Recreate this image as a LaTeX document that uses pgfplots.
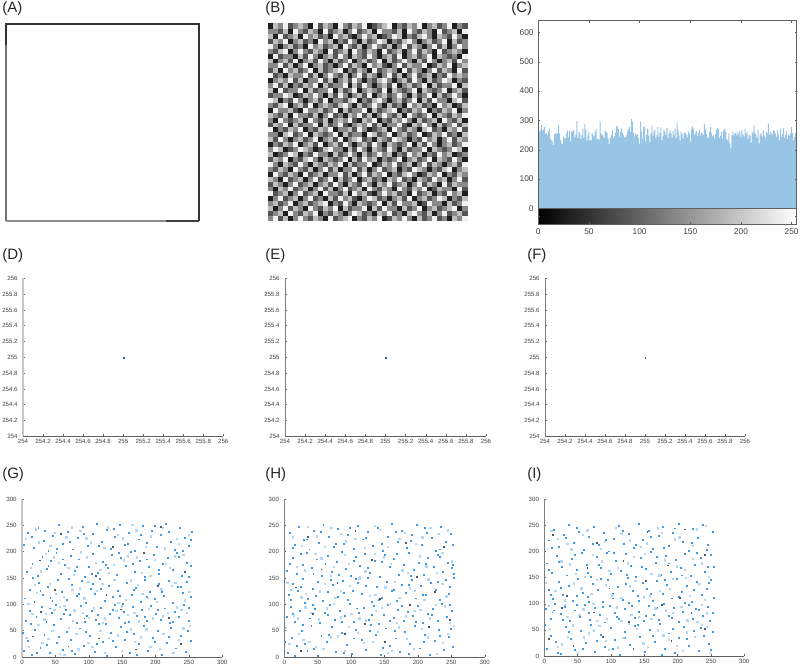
\documentclass[border=0pt]{standalone}
\usepackage{fontspec}
\setmainfont{Liberation Sans}
\usepackage{pgfplots}
\usepackage{pgfplotstable}
\pgfplotsset{compat=1.18}
\definecolor{axgrey}{HTML}{606060}
\definecolor{txtgrey}{HTML}{404040}
\definecolor{barblue}{HTML}{98C4E6}
\definecolor{dotblue}{HTML}{3F98E0}
\definecolor{dotpale}{HTML}{B4D8F4}
\definecolor{dotdark}{HTML}{4A5A68}
\pgfplotsset{
  pxbox/.style n args={4}{at={({#1*0.75bp},{(668-#4)*0.75bp})},anchor=south west,scale only axis,
    width={(#3-#1)*0.75bp},height={(#4-#2)*0.75bp}},
  small ticks/.style={tick label style={font=\fontsize{4.6}{5}\selectfont,text=txtgrey},
    /pgf/number format/assume math mode=true,/pgf/number format/fixed,/pgf/number format/precision=1,
    major tick length=1.5bp,tick style={axgrey,line width=0.3bp},
    axis x line*=bottom,axis y line*=left,x axis line style={-,axgrey,line width=0.5bp},
    xticklabel style={yshift=1bp},yticklabel style={xshift=-0.5bp}},
  zoomaxis/.style={small ticks,xmin=254,xmax=256,ymin=254,ymax=256,
    xtick={254,254.2,254.4,254.6,254.8,255,255.2,255.4,255.6,255.8,256},
    ytick={254,254.2,254.4,254.6,254.8,255,255.2,255.4,255.6,255.8,256}},
  spreadaxis/.style={small ticks,xmin=0,xmax=300,ymin=0,ymax=300,xtick={0,50,...,300},ytick={0,50,...,300}},
  thickleft/.style={y axis line style={-,gray!45,line width=1.3bp}},
  thinleft/.style={y axis line style={-,axgrey!80,line width=0.6bp}},
  dotb/.style={only marks,mark=square*,mark size=0.36bp,mark options={draw=dotblue,fill=dotblue,line width=0.05bp}},
  dotp/.style={only marks,mark=square*,mark size=0.5bp,mark options={draw=dotpale,fill=dotpale,line width=0.05bp}},
  dotd/.style={only marks,mark=square*,mark size=0.3bp,mark options={draw=dotdark,fill=dotdark,line width=0.05bp}},
  onepoint/.style={only marks,mark=square*,mark size=0.3bp,mark options={draw=dotblue!70!black,fill=dotblue!70!black,line width=0.05bp}},
}
% panel B: typed stand-in texture on a 40x40 grid, NOT read cell by cell.
% The reference is per-pixel noise; only its overall grey mix is matched.
\pgfplotstableread[header=false]{
2 4 1 3 0 2 4 2 1 3 2 0 4 1 2 3 4 0 2 1 3 2 4 0 1 3 2 4 2 0 3 1 2 4 1 2 0 3 2 4
1 2 3 0 4 2 1 3 2 4 0 2 1 3 2 0 2 4 3 1 2 0 3 2 4 1 2 0 3 4 2 1 3 0 2 4 1 2 3 1
3 0 2 4 1 3 2 0 4 2 1 3 2 4 0 3 1 2 2 4 0 3 1 4 2 2 0 3 1 2 4 0 2 3 1 2 3 4 0 2
2 3 1 2 4 0 2 3 1 2 3 4 0 2 1 4 2 0 3 2 1 2 4 0 3 1 4 2 2 3 0 1 4 2 2 0 3 1 2 4
0 2 4 1 2 3 0 2 4 1 2 0 3 1 4 2 3 1 0 2 4 3 1 2 0 2 3 1 4 0 2 3 1 2 4 3 0 2 1 3
4 1 2 3 0 2 4 1 2 3 0 4 2 2 1 3 0 4 2 3 1 0 2 4 2 3 1 2 0 4 1 2 3 0 2 1 4 2 3 0
2 0 3 2 4 1 2 3 0 2 4 1 3 0 2 4 1 2 3 0 4 2 1 3 2 0 4 2 1 3 2 4 0 1 3 2 2 0 4 1
1 3 2 0 2 4 1 2 3 0 2 3 1 4 2 0 3 2 1 4 2 0 3 2 4 1 2 3 0 2 4 1 3 2 0 4 1 3 2 2
3 2 0 4 1 2 3 0 2 4 1 2 4 0 3 1 2 4 0 2 3 1 2 0 3 2 4 1 2 0 3 2 1 4 2 3 0 2 4 1
0 4 2 1 3 2 0 4 1 2 3 0 2 2 4 1 3 0 2 4 1 3 2 4 0 2 1 3 4 2 0 1 3 2 4 0 2 1 3 2
2 1 3 2 0 4 2 1 3 0 2 4 1 3 0 2 2 4 1 3 0 2 4 1 2 3 0 2 1 4 3 2 0 2 1 3 4 0 2 3
4 2 0 3 2 1 4 2 0 3 2 1 3 2 4 0 3 1 2 2 4 0 1 3 2 4 1 2 3 0 2 4 1 3 2 0 2 3 1 4
1 3 2 4 0 2 1 3 4 2 0 3 2 1 2 4 0 3 1 4 2 3 0 2 1 2 4 0 2 3 1 2 4 0 3 2 1 4 2 0
3 0 1 2 4 3 0 2 1 4 2 2 0 3 1 2 4 2 0 3 1 2 4 2 3 0 2 1 4 2 3 0 2 1 4 2 3 0 1 2
2 4 3 0 1 2 4 3 2 0 1 3 4 2 2 0 3 1 4 2 0 3 2 1 4 2 0 3 1 2 2 4 0 3 2 1 2 4 3 0
0 2 1 3 2 4 0 2 3 1 4 0 2 3 1 4 2 0 2 3 1 4 2 0 3 2 1 2 4 0 3 1 4 2 0 2 3 1 2 4
3 1 4 2 0 2 3 1 2 4 0 2 3 1 4 0 2 3 4 1 2 0 3 2 1 4 3 2 0 2 1 4 2 3 0 2 4 1 3 2
2 2 0 3 4 1 2 4 0 3 2 1 2 4 0 3 1 2 2 0 4 3 1 2 4 0 2 3 1 2 4 0 1 3 2 4 1 2 0 3
4 0 2 1 3 2 4 0 2 1 3 2 4 0 2 2 3 1 4 2 0 1 2 3 0 4 2 1 3 2 0 3 4 1 2 0 3 2 4 1
1 3 2 4 0 3 1 2 2 4 0 3 1 2 4 1 0 2 3 2 4 1 3 0 2 2 4 1 0 3 2 4 2 0 3 1 2 4 1 3
2 0 4 2 1 2 3 0 4 2 1 3 0 2 3 2 4 1 0 3 2 4 0 2 1 3 2 4 2 0 3 1 2 3 0 4 2 1 3 0
3 2 1 3 0 4 2 2 1 3 0 2 4 1 2 0 3 2 4 1 3 0 2 4 2 1 3 0 4 2 1 2 4 0 3 2 1 3 2 4
0 4 2 2 3 1 0 4 2 2 3 1 2 4 0 3 1 2 2 4 0 3 1 2 3 4 0 2 1 3 2 4 0 2 1 3 2 4 0 2
2 1 3 4 0 2 3 1 4 0 2 3 2 1 3 4 2 0 3 1 2 4 2 0 3 1 2 0 4 2 3 1 2 0 4 2 3 0 1 3
4 3 0 2 1 4 2 0 2 3 1 4 0 2 2 1 3 4 0 2 1 3 4 2 0 2 3 1 2 4 0 3 1 4 2 2 0 3 4 1
1 2 2 4 3 0 1 3 2 4 2 0 3 1 4 2 0 2 3 1 4 0 2 3 1 2 4 2 0 3 1 2 4 0 3 1 2 4 2 0
3 0 4 1 2 2 4 0 3 1 2 2 4 0 3 1 2 4 0 2 3 2 1 4 0 3 2 1 2 4 0 3 2 1 2 4 0 2 3 1
2 4 1 3 0 2 1 3 2 4 0 3 1 2 2 4 0 3 1 4 2 0 2 3 1 4 0 2 3 1 2 4 0 3 1 2 2 4 0 3
0 2 3 2 4 1 3 0 2 2 4 1 3 0 2 3 1 4 2 0 2 1 3 4 2 0 2 3 1 4 2 0 3 1 2 4 3 0 2 1
4 1 2 0 3 2 2 4 1 3 0 2 4 2 1 3 0 2 4 1 3 2 0 2 4 1 3 0 2 4 1 2 3 0 2 1 4 2 3 2
1 3 0 4 2 3 1 2 4 0 3 1 2 3 4 0 2 1 3 2 0 4 1 2 3 2 0 4 1 3 2 0 2 4 1 3 2 0 4 1
2 2 4 1 3 0 2 4 0 2 3 1 2 0 2 4 1 3 2 0 4 2 3 1 0 2 4 1 3 2 2 4 0 1 3 2 4 0 2 3
3 0 2 3 1 4 0 2 3 1 4 2 0 3 1 2 4 0 2 3 1 2 4 0 3 1 2 4 2 0 3 1 4 2 0 2 3 1 4 2
0 4 1 2 2 0 3 1 4 2 0 2 3 1 4 2 0 3 2 1 4 2 0 2 3 1 4 0 2 3 1 2 4 0 3 2 1 2 0 4
2 1 3 4 0 2 4 2 1 3 2 0 4 1 2 3 0 4 2 1 3 2 0 4 1 2 3 0 2 4 1 3 2 0 4 1 2 3 2 0
4 2 0 2 3 1 2 0 4 2 3 1 2 3 0 4 2 1 3 0 2 4 2 1 3 0 2 4 1 3 2 0 2 4 1 3 0 2 4 2
1 3 2 4 0 2 3 1 2 0 4 2 3 0 2 1 4 2 0 3 1 2 4 3 0 2 1 3 4 2 0 2 3 1 2 4 0 3 1 2
3 0 4 1 2 3 0 4 2 3 1 2 0 4 2 3 1 0 2 4 2 3 0 1 2 4 3 0 2 1 3 4 2 0 3 2 1 4 2 0
2 2 1 3 0 4 2 1 3 2 0 4 1 2 3 0 2 4 1 2 3 0 4 2 2 1 3 0 4 2 1 3 2 0 4 1 2 3 0 4
0 3 2 4 1 2 3 2 0 4 1 3 2 0 4 2 1 3 2 4 0 1 2 3 4 0 2 1 3 2 4 0 2 3 1 2 4 0 2 1
}\noiseB
% panel C: counts for grey levels 0..255. Tall peaks and dips read off the
% picture, the bars between them estimated.
\pgfplotstableread[header=false]{
245
262
266
285
268
268
278
255
256
250
262
272
238
232
228
216
252
258
254
256
284
256
232
222
218
246
240
238
256
266
244
266
228
264
262
268
242
252
298
240
262
256
236
250
272
240
288
268
232
248
262
232
232
258
250
246
262
270
236
238
234
297
256
252
248
240
266
262
258
238
220
242
250
268
240
246
258
280
280
270
244
262
272
258
250
244
240
248
262
270
278
262
305
294
258
246
256
250
254
240
220
296
262
236
280
276
228
252
272
248
226
256
282
248
262
268
240
250
278
244
258
276
232
246
268
262
250
274
240
258
268
256
242
264
250
272
240
290
268
248
232
262
254
238
258
260
252
242
262
256
228
270
280
272
252
256
264
246
258
268
248
258
254
250
288
270
254
242
240
262
278
258
246
250
238
254
268
274
270
240
248
262
238
266
272
260
236
230
256
222
205
250
262
248
256
258
248
262
252
264
244
268
252
246
272
254
262
238
252
248
224
256
262
284
258
250
240
268
222
252
258
244
266
248
240
262
256
290
250
262
256
252
266
264
256
244
268
252
232
272
244
254
274
240
250
262
236
252
248
258
278
256
232
244
258
236
}\histC
\begin{document}
\begin{tikzpicture}
\path[use as bounding box] (0,0) rectangle (600bp,501bp);
\foreach \lab/\lx/\ly in {(A)/2/9,(B)/265/9,(C)/511/9,(D)/2/256,(E)/265/256,(F)/527/256,(G)/2/475,(H)/265/475,(I)/527/475}
  \node[anchor=west,inner sep=0pt,font=\fontsize{11.3}{13}\selectfont,text=black!85] at ({\lx*0.75bp},{(668-\ly)*0.75bp}) {\lab};

% A
\begin{axis}[pxbox={6}{24}{199}{221},xmin=0,xmax=255,ymin=0,ymax=255,hide axis,clip=false]
\addplot[black!55,line width=0.8bp] coordinates {(0,0)(0,255)};
\addplot[black!80,line width=1.2bp] coordinates {(0,228)(0,255)(255,255)(255,0)};
\addplot[black!45,line width=0.9bp] coordinates {(0,0)(211,0)};
\addplot[black!75,line width=0.9bp] coordinates {(211,0)(255,0)};
\end{axis}

% B
\begin{axis}[pxbox={268}{23}{467}{220},xmin=0,xmax=40,ymin=0,ymax=40,hide axis,
  colormap={bw}{gray(0cm)=(0.12);gray(1cm)=(0.95)},point meta min=0,point meta max=4]
\pgfplotsinvokeforeach{0,...,39}{
  \addplot[scatter,only marks,mark=square*,mark size=1.9bp,point meta=explicit,
    scatter/use mapped color={draw=mapped color,fill=mapped color,line width=0.05bp}]
    table[x expr=#1+0.5,y expr=\coordindex+0.5,meta expr=\thisrowno{#1}] {\noiseB};
}
\end{axis}

% C
\begin{axis}[pxbox={538.3}{20.7}{796.7}{224},xmin=0,xmax=255,ymin=-53,ymax=640,
  xtick={0,50,...,250},ytick={0,100,...,600},extra y ticks={-27},extra y tick labels={},
  tick label style={font=\fontsize{6.3}{7}\selectfont,text=txtgrey},
  /pgf/number format/assume math mode=true,
  major tick length=1.6bp,tick style={axgrey,line width=0.35bp},
  axis line style={axgrey,line width=0.5bp},
  colormap={bw}{gray(0cm)=(0);gray(1cm)=(1)},point meta min=0,point meta max=255,
  axis on top]
\addplot[ybar,bar width=1,bar shift=0pt,draw=none,fill=barblue]
  table[x expr=\coordindex,y index=0] {\histC};
\addplot[surf,shader=interp,mesh/rows=2,mesh/cols=2,point meta=x] coordinates {(0,-53)(255,-53)(0,0)(255,0)};
\addplot[axgrey,line width=0.5bp] coordinates {(0,0)(255,0)};
\end{axis}

% D E F
\begin{axis}[pxbox={23}{278.3}{223.3}{436.3},zoomaxis,thickleft]
\addplot[onepoint] coordinates {(255,255)};
\end{axis}
\begin{axis}[pxbox={285}{278.3}{486}{436.3},zoomaxis,thinleft]
\addplot[onepoint] coordinates {(255,255)};
\end{axis}
\begin{axis}[pxbox={545}{278.3}{745}{436.3},zoomaxis,thinleft]
\addplot[onepoint] coordinates {(255,255)};
\end{axis}

% G H I: hand-placed stand-in points with the reference's extent (0..255) and
% overall spread, far fewer than it has. They do not match individual dots.
% G
\begin{axis}[pxbox={22}{499}{222.3}{657},spreadaxis,thickleft]
\addplot[dotb] table {
3 12
8 31
14 4
19 52
27 18
33 43
41 9
47 61
52 27
60 14
66 48
73 33
79 6
86 55
92 22
101 40
108 11
114 63
121 29
127 2
133 47
140 19
147 58
154 34
161 8
167 44
175 25
182 60
188 13
196 37
203 51
209 5
216 28
223 56
230 17
238 41
245 10
252 32
6 70
12 88
21 76
29 95
36 68
44 84
50 99
58 73
65 91
71 80
82 66
88 97
96 78
104 89
110 71
118 94
125 64
131 83
138 100
145 75
152 87
159 67
166 96
172 79
179 90
186 69
193 98
200 82
207 72
214 93
221 65
228 86
235 77
242 99
249 70
4 112
11 128
18 105
25 141
31 118
38 133
45 107
53 147
59 124
67 110
74 138
81 116
89 145
95 103
102 130
109 121
116 149
123 108
129 136
136 114
143 127
150 102
157 142
164 119
170 132
177 106
184 148
191 125
198 111
205 139
212 117
219 146
226 104
233 134
240 122
247 144
253 115
7 162
15 178
23 155
30 191
37 168
43 184
51 199
57 158
64 175
72 193
78 165
85 186
93 153
100 172
106 197
113 160
120 181
128 169
134 195
141 156
148 188
155 174
162 200
169 163
176 183
183 152
190 171
197 194
204 159
211 177
218 189
225 166
232 198
239 154
246 180
252 173
2 214
9 236
17 208
24 245
32 222
39 203
46 231
54 251
61 216
68 239
75 205
83 226
90 248
98 211
105 234
112 254
119 219
126 242
132 206
139 229
146 252
153 213
160 237
168 202
174 224
181 250
187 217
194 241
201 209
208 232
215 253
222 220
229 204
236 246
243 227
250 212
254 238
1 47
22 9
37 24
55 38
74 13
95 49
112 25
136 31
157 49
171 4
199 29
220 38
248 50
13 64
41 93
62 82
94 68
113 81
135 90
153 65
183 76
203 91
226 68
250 94
27 127
42 113
70 149
84 121
105 140
118 130
146 117
167 129
186 114
209 124
238 133
16 151
39 174
60 186
82 172
104 158
125 176
144 199
165 178
187 186
205 166
235 190
249 152
14 228
34 241
52 206
71 220
92 234
115 212
137 244
158 215
178 232
199 249
219 238
240 202
253 223
};
\addplot[dotp] table {
10 20
24 62
39 35
56 7
70 56
84 15
99 28
117 50
130 37
149 12
163 53
178 38
192 20
211 44
226 9
241 55
15 83
33 72
48 90
63 98
76 69
91 85
107 93
124 74
141 88
158 81
175 68
190 92
210 78
231 95
246 84
22 122
41 139
62 115
86 131
99 143
112 126
138 147
155 109
173 137
188 113
208 129
229 142
243 108
13 170
35 196
55 180
77 157
97 190
117 166
137 176
158 192
179 161
199 185
221 170
241 195
5 225
20 243
42 212
66 228
87 240
103 218
128 247
151 226
171 241
193 230
213 207
234 215
249 233
6 37
30 28
45 50
63 5
81 44
105 20
124 9
143 42
169 30
186 53
206 16
234 33
251 60
9 101
35 82
56 96
78 89
100 75
121 66
149 97
168 84
196 74
218 85
238 90
19 137
50 120
75 128
93 112
120 139
144 104
163 146
180 121
201 105
224 136
250 124
28 163
47 190
69 170
88 199
110 180
130 160
152 184
172 190
192 155
215 177
228 192
25 218
49 236
74 247
96 226
123 208
143 233
165 252
185 210
210 246
231 225
};
\addplot[dotd] table {
16 40
69 21
115 36
170 15
237 26
28 86
93 74
148 91
219 75
49 128
126 118
203 135
26 184
110 154
182 199
244 163
58 235
135 210
207 247
};
\end{axis}

% H
\begin{axis}[pxbox={284.3}{499}{484.7}{657},spreadaxis,thinleft]
\addplot[dotb] table {
5 8
11 37
18 22
26 50
34 13
40 60
49 3
55 41
63 29
71 57
77 11
85 46
93 24
100 6
107 53
115 33
122 15
129 62
137 42
144 4
151 55
158 21
166 36
173 10
180 49
188 26
195 59
202 17
210 43
217 5
225 31
231 53
239 14
246 38
252 20
3 77
9 96
16 68
23 88
30 103
38 74
45 92
53 66
60 84
67 99
75 71
82 89
90 78
97 101
104 67
111 85
118 94
126 72
133 98
141 64
148 81
155 100
163 75
170 90
178 69
185 86
192 79
199 97
207 65
214 83
222 92
229 70
236 102
243 76
250 88
6 118
13 139
20 127
28 149
35 111
42 130
50 143
57 107
65 124
72 137
80 115
87 146
94 109
102 127
109 141
116 120
124 150
131 106
138 133
146 113
153 144
160 126
168 108
175 138
182 122
190 147
197 112
204 135
212 119
219 142
226 128
233 110
241 148
248 134
253 151
4 165
12 188
19 158
27 176
33 199
41 170
48 186
56 154
64 193
70 162
78 181
86 200
92 168
99 155
106 190
113 174
120 197
128 160
135 183
142 152
150 194
157 171
164 187
171 157
179 175
186 198
193 166
201 180
208 156
215 189
223 172
230 195
237 163
244 179
251 170
254 158
8 236
15 214
22 248
29 223
37 205
44 240
51 218
58 252
66 229
73 209
80 244
88 216
95 232
103 206
110 250
117 224
125 238
132 212
140 246
147 202
154 228
161 254
169 219
176 241
183 207
191 233
198 251
205 213
213 237
220 226
227 203
234 247
242 220
249 235
1 30
15 2
31 26
44 16
66 43
88 9
104 36
128 51
147 18
165 51
186 7
208 29
232 41
249 54
12 82
27 62
42 100
65 80
86 68
108 93
131 81
158 70
176 97
196 67
220 80
247 99
10 110
24 134
47 116
69 147
89 123
106 149
121 135
141 110
163 128
186 137
207 118
229 143
246 120
8 178
24 196
43 158
61 178
81 157
103 184
124 169
145 182
168 197
189 155
211 177
233 190
252 176
13 207
33 224
54 238
76 216
98 246
122 227
145 215
166 238
189 222
210 246
232 205
252 214
};
\addplot[dotp] table {
7 25
21 44
37 30
58 16
80 40
96 58
119 27
140 48
161 12
183 35
205 54
228 6
244 45
14 80
31 95
51 72
74 101
100 83
122 70
146 94
168 66
194 88
217 74
240 97
10 128
32 120
60 140
84 126
112 150
136 118
165 143
187 131
209 109
236 139
18 172
46 196
69 155
96 178
121 163
149 190
176 165
202 192
228 160
250 182
26 212
48 230
70 246
92 220
120 208
143 242
172 225
196 215
218 246
244 241
2 56
28 33
47 20
69 38
90 12
110 47
132 30
155 8
171 57
193 16
214 38
237 27
253 60
20 74
40 84
63 93
84 76
112 74
137 88
157 102
181 78
203 90
226 100
247 66
4 142
25 114
53 125
76 113
98 136
128 117
151 133
172 113
195 126
215 148
242 116
30 165
55 188
74 172
90 194
113 152
135 196
159 178
184 160
212 173
236 198
12 228
35 248
60 210
84 235
106 225
135 250
155 210
180 236
206 228
230 235
};
\addplot[dotd] table {
24 12
90 44
150 30
216 58
42 82
120 64
188 99
247 71
17 133
79 142
143 111
225 124
55 167
130 185
198 153
35 228
106 240
181 217
238 209
};
\end{axis}

% I
\begin{axis}[pxbox={544.3}{499.3}{744.3}{656},spreadaxis,thinleft]
\addplot[dotb] table {
4 14
10 40
17 27
25 5
32 56
39 33
46 12
54 48
62 25
69 61
76 8
84 42
91 19
99 54
106 31
113 3
121 47
128 22
135 59
143 37
150 9
158 51
165 28
173 62
180 15
187 44
195 6
202 35
209 57
217 20
224 49
232 11
239 39
247 24
253 46
2 90
9 72
16 101
24 81
31 95
38 68
46 88
53 76
61 99
68 70
75 93
83 79
90 65
98 97
105 84
112 71
120 91
127 102
135 74
142 86
149 67
157 96
164 80
172 69
179 100
186 77
194 92
201 66
208 85
216 98
223 72
231 89
238 78
245 94
252 83
6 127
13 110
21 143
28 118
36 135
43 106
50 148
58 122
65 113
73 139
80 128
88 104
95 146
102 120
110 133
117 109
125 150
132 125
140 115
147 141
154 129
162 107
169 145
177 119
184 136
191 111
199 149
206 123
214 134
221 105
228 143
236 117
243 130
250 147
254 112
3 178
11 160
18 192
26 171
33 155
41 186
48 166
56 199
63 175
70 153
78 190
85 169
93 198
100 158
107 182
115 164
122 196
130 173
137 152
145 188
152 167
159 200
167 179
174 156
182 193
189 162
197 184
204 170
211 197
219 154
226 176
234 189
241 161
249 194
254 172
7 222
14 243
22 210
29 233
37 252
44 217
52 239
59 204
67 228
74 248
82 213
89 237
96 201
104 225
111 250
119 215
126 235
134 208
141 254
148 223
156 241
163 206
171 230
178 247
186 212
193 236
201 253
208 219
216 202
223 244
230 227
238 251
245 214
252 238
1 60
20 6
37 47
58 15
79 29
103 14
120 36
140 61
162 40
176 2
193 52
213 33
234 55
250 12
14 88
28 70
49 99
66 84
87 94
109 76
131 97
152 78
169 92
191 73
211 102
227 91
248 68
9 118
24 131
48 116
67 104
84 149
103 111
122 138
142 107
159 119
181 147
202 113
224 127
247 140
6 166
22 181
46 194
65 160
81 175
104 199
124 156
146 172
168 191
187 178
206 155
229 199
245 172
11 207
32 227
49 246
72 215
92 223
117 240
137 213
159 229
179 208
196 245
221 218
243 204
};
\addplot[dotp] table {
8 52
20 18
35 37
50 7
66 44
82 58
96 13
118 35
138 52
155 18
178 40
198 20
213 46
236 60
248 6
12 85
30 99
52 79
79 68
108 94
130 80
160 72
182 88
205 95
229 66
243 82
16 125
44 140
70 120
92 136
115 112
136 145
158 117
188 129
212 150
240 108
25 182
47 158
72 194
97 163
125 178
150 196
172 155
198 172
222 187
246 152
20 225
40 205
64 241
90 219
115 234
144 209
170 245
195 224
222 212
242 250
26 23
42 59
59 36
74 50
92 29
110 17
126 62
148 25
170 50
186 31
207 10
225 37
243 57
6 97
34 75
58 90
73 100
93 72
115 68
141 76
166 92
192 83
214 69
236 99
2 141
30 107
55 130
78 146
101 117
128 134
149 113
173 125
192 148
218 116
232 139
38 176
60 152
86 182
110 170
134 190
160 158
180 184
210 165
236 178
10 240
34 215
57 232
84 206
107 246
128 222
153 216
176 236
202 228
228 243
};
\addplot[dotd] table {
6 33
43 20
87 38
133 15
190 30
240 52
26 93
74 84
126 66
176 98
220 83
33 116
97 130
152 144
203 112
64 170
118 183
185 174
240 195
12 232
78 218
154 238
210 243
};
\end{axis}
\end{tikzpicture}
\end{document}
